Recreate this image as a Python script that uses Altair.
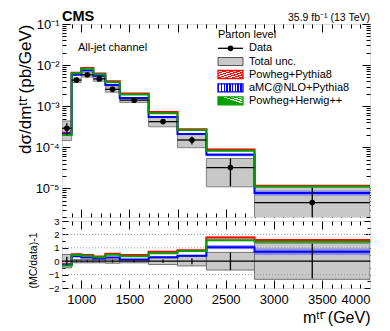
import altair as alt
import pandas as pd

# ---------------- data ----------------
edges = [800, 900, 1000, 1125, 1250, 1400, 1700, 2000, 2300, 2800, 4000]
data_xsec = [2.9e-4, 4.3e-3, 5.8e-3, 4.6e-3, 2.57e-3, 1.40e-3, 4.2e-4, 1.5e-4, 3.2e-5, 4.5e-6]
data_err_rel = [0.33, 0.08, 0.07, 0.08, 0.10, 0.08, 0.12, 0.22, 0.65, 1.30]
total_unc_rel = [0.50, 0.12, 0.12, 0.12, 0.15, 0.12, 0.25, 0.35, 0.66, 1.35]
powheg_pythia8 = [2.26e-4, 6.54e-3, 8.47e-3, 6.21e-3, 4.01e-3, 2.04e-3, 7.18e-4, 2.72e-4, 8.86e-5, 1.16e-5]
amcnlo_pythia8 = [2.12e-4, 5.85e-3, 7.42e-3, 5.52e-3, 3.29e-3, 1.58e-3, 5.46e-4, 2.10e-4, 6.56e-5, 7.7e-6]
powheg_herwig = [1.97e-4, 6.28e-3, 8.12e-3, 5.98e-3, 3.80e-3, 1.93e-3, 6.72e-4, 2.64e-4, 8.22e-5, 1.10e-5]
powheg_pythia8_unc = [0.025, 0.02, 0.02, 0.02, 0.02, 0.02, 0.025, 0.025, 0.03, 0.03]
amcnlo_pythia8_unc = [0.05, 0.04, 0.04, 0.04, 0.04, 0.04, 0.05, 0.05, 0.08, 0.14]
powheg_herwig_unc = [0.02, 0.02, 0.02, 0.02, 0.02, 0.02, 0.02, 0.025, 0.03, 0.03]

gen_names = ["Powheg+Pythia8", "aMC@NLO+Pythia8", "Powheg+Herwig++"]
gen_vals = [powheg_pythia8, amcnlo_pythia8, powheg_herwig]
gen_unc = [powheg_pythia8_unc, amcnlo_pythia8_unc, powheg_herwig_unc]
gen_colors = ["#ff0000", "#0000ff", "#00a000"]
gen_band = ["#ff6666", "#5555ff", "#66cc66"]
gen_band_op = [0.6, 0.55, 0.6]

x_major = [1000, 1500, 2000, 2500, 3000, 3500]
x_minor = [v for v in range(900, 4000, 100) if v % 500 != 0]
y_major = [1e-1, 1e-2, 1e-3, 1e-4, 1e-5]
y_minor = [k * 10.0 ** e for e in range(-6, -1) for k in range(2, 10) if 2e-6 <= k * 10.0 ** e < 0.1]
r_major = [-2, -1, 0, 1, 2, 3]
r_minor = [-1.5, -0.5, 0.5, 1.5, 2.5]
r_dotted = [2, 1, -1]

FONT = "Liberation Sans"
W, H_TOP, H_RAT = 308, 193, 67

# ---------------- tables ----------------
lo, hi = edges[:-1], edges[1:]
bins = pd.DataFrame({"lo": lo, "hi": hi})
bins["mid"] = (bins["lo"] + bins["hi"]) / 2
bins["data"] = data_xsec
bins["dlo"] = [max(d * (1 - e), 1e-8) for d, e in zip(data_xsec, data_err_rel)]
bins["dhi"] = [d * (1 + e) for d, e in zip(data_xsec, data_err_rel)]
bins["ulo"] = [max(d * (1 - u), 1e-8) for d, u in zip(data_xsec, total_unc_rel)]
bins["uhi"] = [d * (1 + u) for d, u in zip(data_xsec, total_unc_rel)]
bins["rerr_lo"] = [-e for e in data_err_rel]
bins["rerr_hi"] = data_err_rel
bins["runc_lo"] = [-u for u in total_unc_rel]
bins["runc_hi"] = total_unc_rel

band_rows, step_rows = [], []
for g, vals, unc in zip(gen_names, gen_vals, gen_unc):
    for i in range(len(lo)):
        band_rows.append({"gen": g, "lo": lo[i], "hi": hi[i],
                          "blo": vals[i] * (1 - unc[i]), "bhi": vals[i] * (1 + unc[i]),
                          "rlo": vals[i] * (1 - unc[i]) / data_xsec[i] - 1,
                          "rhi": vals[i] * (1 + unc[i]) / data_xsec[i] - 1})
    for i, e in enumerate(edges):
        j = min(i, len(vals) - 1)
        step_rows.append({"gen": g, "x": e, "v": vals[j], "r": vals[j] / data_xsec[j] - 1})
bands = pd.DataFrame(band_rows)
steps = pd.DataFrame(step_rows)

xs = alt.Scale(domain=[800, 4000], nice=False, zero=False)
ys_top = alt.Scale(type="log", domain=[2e-6, 0.1], nice=False)
ys_rat = alt.Scale(domain=[-2, 3], nice=False, zero=False)


def axis_layer(xscale, yscale, xaxis, yaxis, y0):
    df = pd.DataFrame({"x": [1000], "y": [y0]})
    return alt.Chart(df).mark_point(opacity=0).encode(
        x=alt.X("x:Q", scale=xscale, axis=xaxis),
        y=alt.Y("y:Q", scale=yscale, axis=yaxis),
    )


def tick_axis(orient, values, size):
    return alt.Axis(orient=orient, values=values, labels=False, domain=False, grid=False,
                    ticks=True, tickSize=size, offset=-size, tickColor="black", tickWidth=1,
                    title=None, minExtent=0, maxExtent=0)


def frame_axes(yscale, ymaj, ymin, y0, ymaj_len=8, ymin_len=4):
    out = []
    for orient in ["left", "right"]:
        out.append(axis_layer(xs, yscale, None, tick_axis(orient, ymaj, ymaj_len), y0))
        out.append(axis_layer(xs, yscale, None, tick_axis(orient, ymin, ymin_len), y0))
    for orient in ["bottom", "top"]:
        out.append(axis_layer(xs, yscale, tick_axis(orient, x_major, 8), None, y0))
        out.append(axis_layer(xs, yscale, tick_axis(orient, x_minor, 4), None, y0))
    return out


def text_layer(txt, x, y, size, align="left", baseline="middle", weight="normal"):
    return alt.Chart(pd.DataFrame({"a": [0]})).mark_text(
        text=txt, font=FONT, fontSize=size, align=align, baseline=baseline,
        fontWeight=weight, color="black").encode(x=alt.value(x), y=alt.value(y))


def stripes(color, n, x2, y2):
    stops = []
    for k in range(n):
        a, b, c = k / n, (k + 0.5) / n, (k + 1) / n
        stops += [alt.GradientStop(offset=a, color=color), alt.GradientStop(offset=b, color=color),
                  alt.GradientStop(offset=b, color="white"), alt.GradientStop(offset=c, color="white")]
    return alt.LinearGradient(gradient="linear", stops=stops, x1=0, y1=0, x2=x2, y2=y2)


# ---------------- top panel ----------------
top_layers = []
top_layers.append(alt.Chart(bins).mark_rect(fill="#c8c8c8", stroke="#808080", strokeWidth=1, clip=True).encode(
    x=alt.X("lo:Q", scale=xs, axis=None), x2="hi:Q",
    y=alt.Y("ulo:Q", scale=ys_top, axis=None), y2="uhi:Q"))
for g, c, op in zip(gen_names, gen_band, gen_band_op):
    top_layers.append(alt.Chart(bands[bands.gen == g]).mark_rect(fill=c, opacity=op, clip=True).encode(
        x=alt.X("lo:Q", scale=xs, axis=None), x2="hi:Q",
        y=alt.Y("blo:Q", scale=ys_top, axis=None), y2="bhi:Q"))
for g, c in zip(gen_names, gen_colors):
    top_layers.append(alt.Chart(steps[steps.gen == g]).mark_line(
        interpolate="step-after", color=c, strokeWidth=2, clip=True).encode(
        x=alt.X("x:Q", scale=xs, axis=None), y=alt.Y("v:Q", scale=ys_top, axis=None)))
top_layers.append(alt.Chart(bins).mark_rule(color="black", strokeWidth=1.3, clip=True).encode(
    x=alt.X("lo:Q", scale=xs, axis=None), x2="hi:Q", y=alt.Y("data:Q", scale=ys_top, axis=None)))
top_layers.append(alt.Chart(bins).mark_rule(color="black", strokeWidth=1.3, clip=True).encode(
    x=alt.X("mid:Q", scale=xs, axis=None), y=alt.Y("dlo:Q", scale=ys_top, axis=None), y2="dhi:Q"))
top_layers.append(alt.Chart(bins).mark_point(filled=True, color="black", size=32, opacity=1, clip=True).encode(
    x=alt.X("mid:Q", scale=xs, axis=None), y=alt.Y("data:Q", scale=ys_top, axis=None)))

# y labels + title
top_layers.append(axis_layer(xs, ys_top, None, alt.Axis(
    orient="left", values=y_major, ticks=False, domain=False, grid=False,
    labelExpr="datum.value > 0.05 ? '10⁻¹' : datum.value > 0.005 ? '10⁻²' : datum.value > 0.0005 ? '10⁻³' : datum.value > 0.00005 ? '10⁻⁴' : '10⁻⁵'",
    labelFontSize=13, labelPadding=3, labelFont=FONT, labelColor="black",
    minExtent=27, maxExtent=27,
    title="dσ/dmᵗᵗ̄ (pb/GeV)", titleFontSize=17, titleFont=FONT, titleFontWeight="normal",
    titleColor="black", titleAnchor="end", titlePadding=1), 1e-3))
top_layers += frame_axes(ys_top, y_major, y_minor, 1e-3)

# annotations / legend
top_layers.append(text_layer("CMS", 0, -3, 14.5, baseline="alphabetic", weight="bold"))
top_layers.append(text_layer("35.9 fb⁻¹ (13 TeV)", W, -3.5, 10.5, align="right", baseline="alphabetic"))
top_layers.append(text_layer("All-jet channel", 16, 24, 11))
top_layers.append(text_layer("Parton level", 156, 10.5, 11))
lx1, lx2, ltx = 156, 181, 187
rows_y = [24.3, 37.5, 50.5, 63.8, 76.8]
one = pd.DataFrame({"a": [0]})
top_layers.append(alt.Chart(one).mark_rule(color="black", strokeWidth=1.3).encode(
    x=alt.value(lx1), x2=alt.value(lx2), y=alt.value(rows_y[0])))
top_layers.append(alt.Chart(one).mark_point(filled=True, color="black", size=32, opacity=1).encode(
    x=alt.value((lx1 + lx2) / 2), y=alt.value(rows_y[0])))
top_layers.append(alt.Chart(one).mark_rect(fill="#c8c8c8", stroke="#555555", strokeWidth=1).encode(
    x=alt.value(lx1), x2=alt.value(lx2), y=alt.value(rows_y[1] - 4), y2=alt.value(rows_y[1] + 4)))
legend_fills = [stripes("#ff0000", 7, 1, 1), stripes("#0000ff", 9, 1, 0), stripes("#00a000", 7, 1, -1)]
for k, (c, f) in enumerate(zip(gen_colors, legend_fills)):
    yy = rows_y[k + 2]
    top_layers.append(alt.Chart(one).mark_rect(fill=f, stroke=c, strokeWidth=1.3).encode(
        x=alt.value(lx1), x2=alt.value(lx2), y=alt.value(yy - 4), y2=alt.value(yy + 4)))
for lab, yy in zip(["Data", "Total unc."] + gen_names, rows_y):
    top_layers.append(text_layer(lab, ltx, yy, 11))

top = alt.layer(*top_layers).resolve_axis(x="independent", y="independent").properties(width=W, height=H_TOP)

# ---------------- ratio panel ----------------
rat_layers = []
rat_layers.append(alt.Chart(bins).mark_rect(fill="#c8c8c8", stroke="#707070", strokeWidth=1, clip=True).encode(
    x=alt.X("lo:Q", scale=xs, axis=None), x2="hi:Q",
    y=alt.Y("runc_lo:Q", scale=ys_rat, axis=None), y2="runc_hi:Q"))
dotted = pd.DataFrame({"y": r_dotted, "x1": [800] * len(r_dotted), "x2": [4000] * len(r_dotted)})
rat_layers.append(alt.Chart(dotted).mark_rule(color="#999999", strokeDash=[1, 2], strokeWidth=1).encode(
    x=alt.X("x1:Q", scale=xs, axis=None), x2="x2:Q", y=alt.Y("y:Q", scale=ys_rat, axis=None)))
for g, c, op in zip(gen_names, gen_band, gen_band_op):
    rat_layers.append(alt.Chart(bands[bands.gen == g]).mark_rect(fill=c, opacity=op, clip=True).encode(
        x=alt.X("lo:Q", scale=xs, axis=None), x2="hi:Q",
        y=alt.Y("rlo:Q", scale=ys_rat, axis=None), y2="rhi:Q"))
for g, c in zip(gen_names, gen_colors):
    rat_layers.append(alt.Chart(steps[steps.gen == g]).mark_line(
        interpolate="step-after", color=c, strokeWidth=2, clip=True).encode(
        x=alt.X("x:Q", scale=xs, axis=None), y=alt.Y("r:Q", scale=ys_rat, axis=None)))
zero = pd.DataFrame({"y": [0], "x1": [800], "x2": [4000]})
rat_layers.append(alt.Chart(zero).mark_rule(color="black", strokeWidth=1.3).encode(
    x=alt.X("x1:Q", scale=xs, axis=None), x2="x2:Q", y=alt.Y("y:Q", scale=ys_rat, axis=None)))
rat_layers.append(alt.Chart(bins).mark_rule(color="black", strokeWidth=1.3, clip=True).encode(
    x=alt.X("mid:Q", scale=xs, axis=None), y=alt.Y("rerr_lo:Q", scale=ys_rat, axis=None), y2="rerr_hi:Q"))

rat_layers.append(axis_layer(xs, ys_rat, None, alt.Axis(
    orient="left", values=r_major, ticks=False, domain=False, grid=False, format="d",
    labelFontSize=9.5, labelPadding=3, labelFont=FONT, labelColor="black",
    minExtent=20, maxExtent=20,
    title="(MC/data)-1", titleFontSize=10.5, titleFont=FONT, titleFontWeight="normal",
    titleColor="black", titleAnchor="start", titlePadding=4), 0))
rat_layers.append(axis_layer(xs, ys_rat, alt.Axis(
    orient="bottom", values=x_major + [4000], ticks=False, domain=False, grid=False, format="d",
    labelFontSize=13, labelPadding=5, labelFont=FONT, labelColor="black",
    title="mᵗᵗ̄ (GeV)", titleFontSize=16, titleFont=FONT, titleFontWeight="normal",
    titleColor="black", titleAnchor="end", titlePadding=3), None, 0))
rat_layers += frame_axes(ys_rat, r_major, r_minor, 0, ymaj_len=6, ymin_len=3)

ratio = alt.layer(*rat_layers).resolve_axis(x="independent", y="independent").properties(width=W, height=H_RAT)

chart = alt.vconcat(top, ratio, spacing=-3).properties(
    padding={"left": 7, "top": 0, "right": 5, "bottom": 0}
).configure_view(stroke="black", strokeWidth=1.2).configure(background="white")

chart.save("out.html", embed_options={"renderer": "svg", "actions": False})
